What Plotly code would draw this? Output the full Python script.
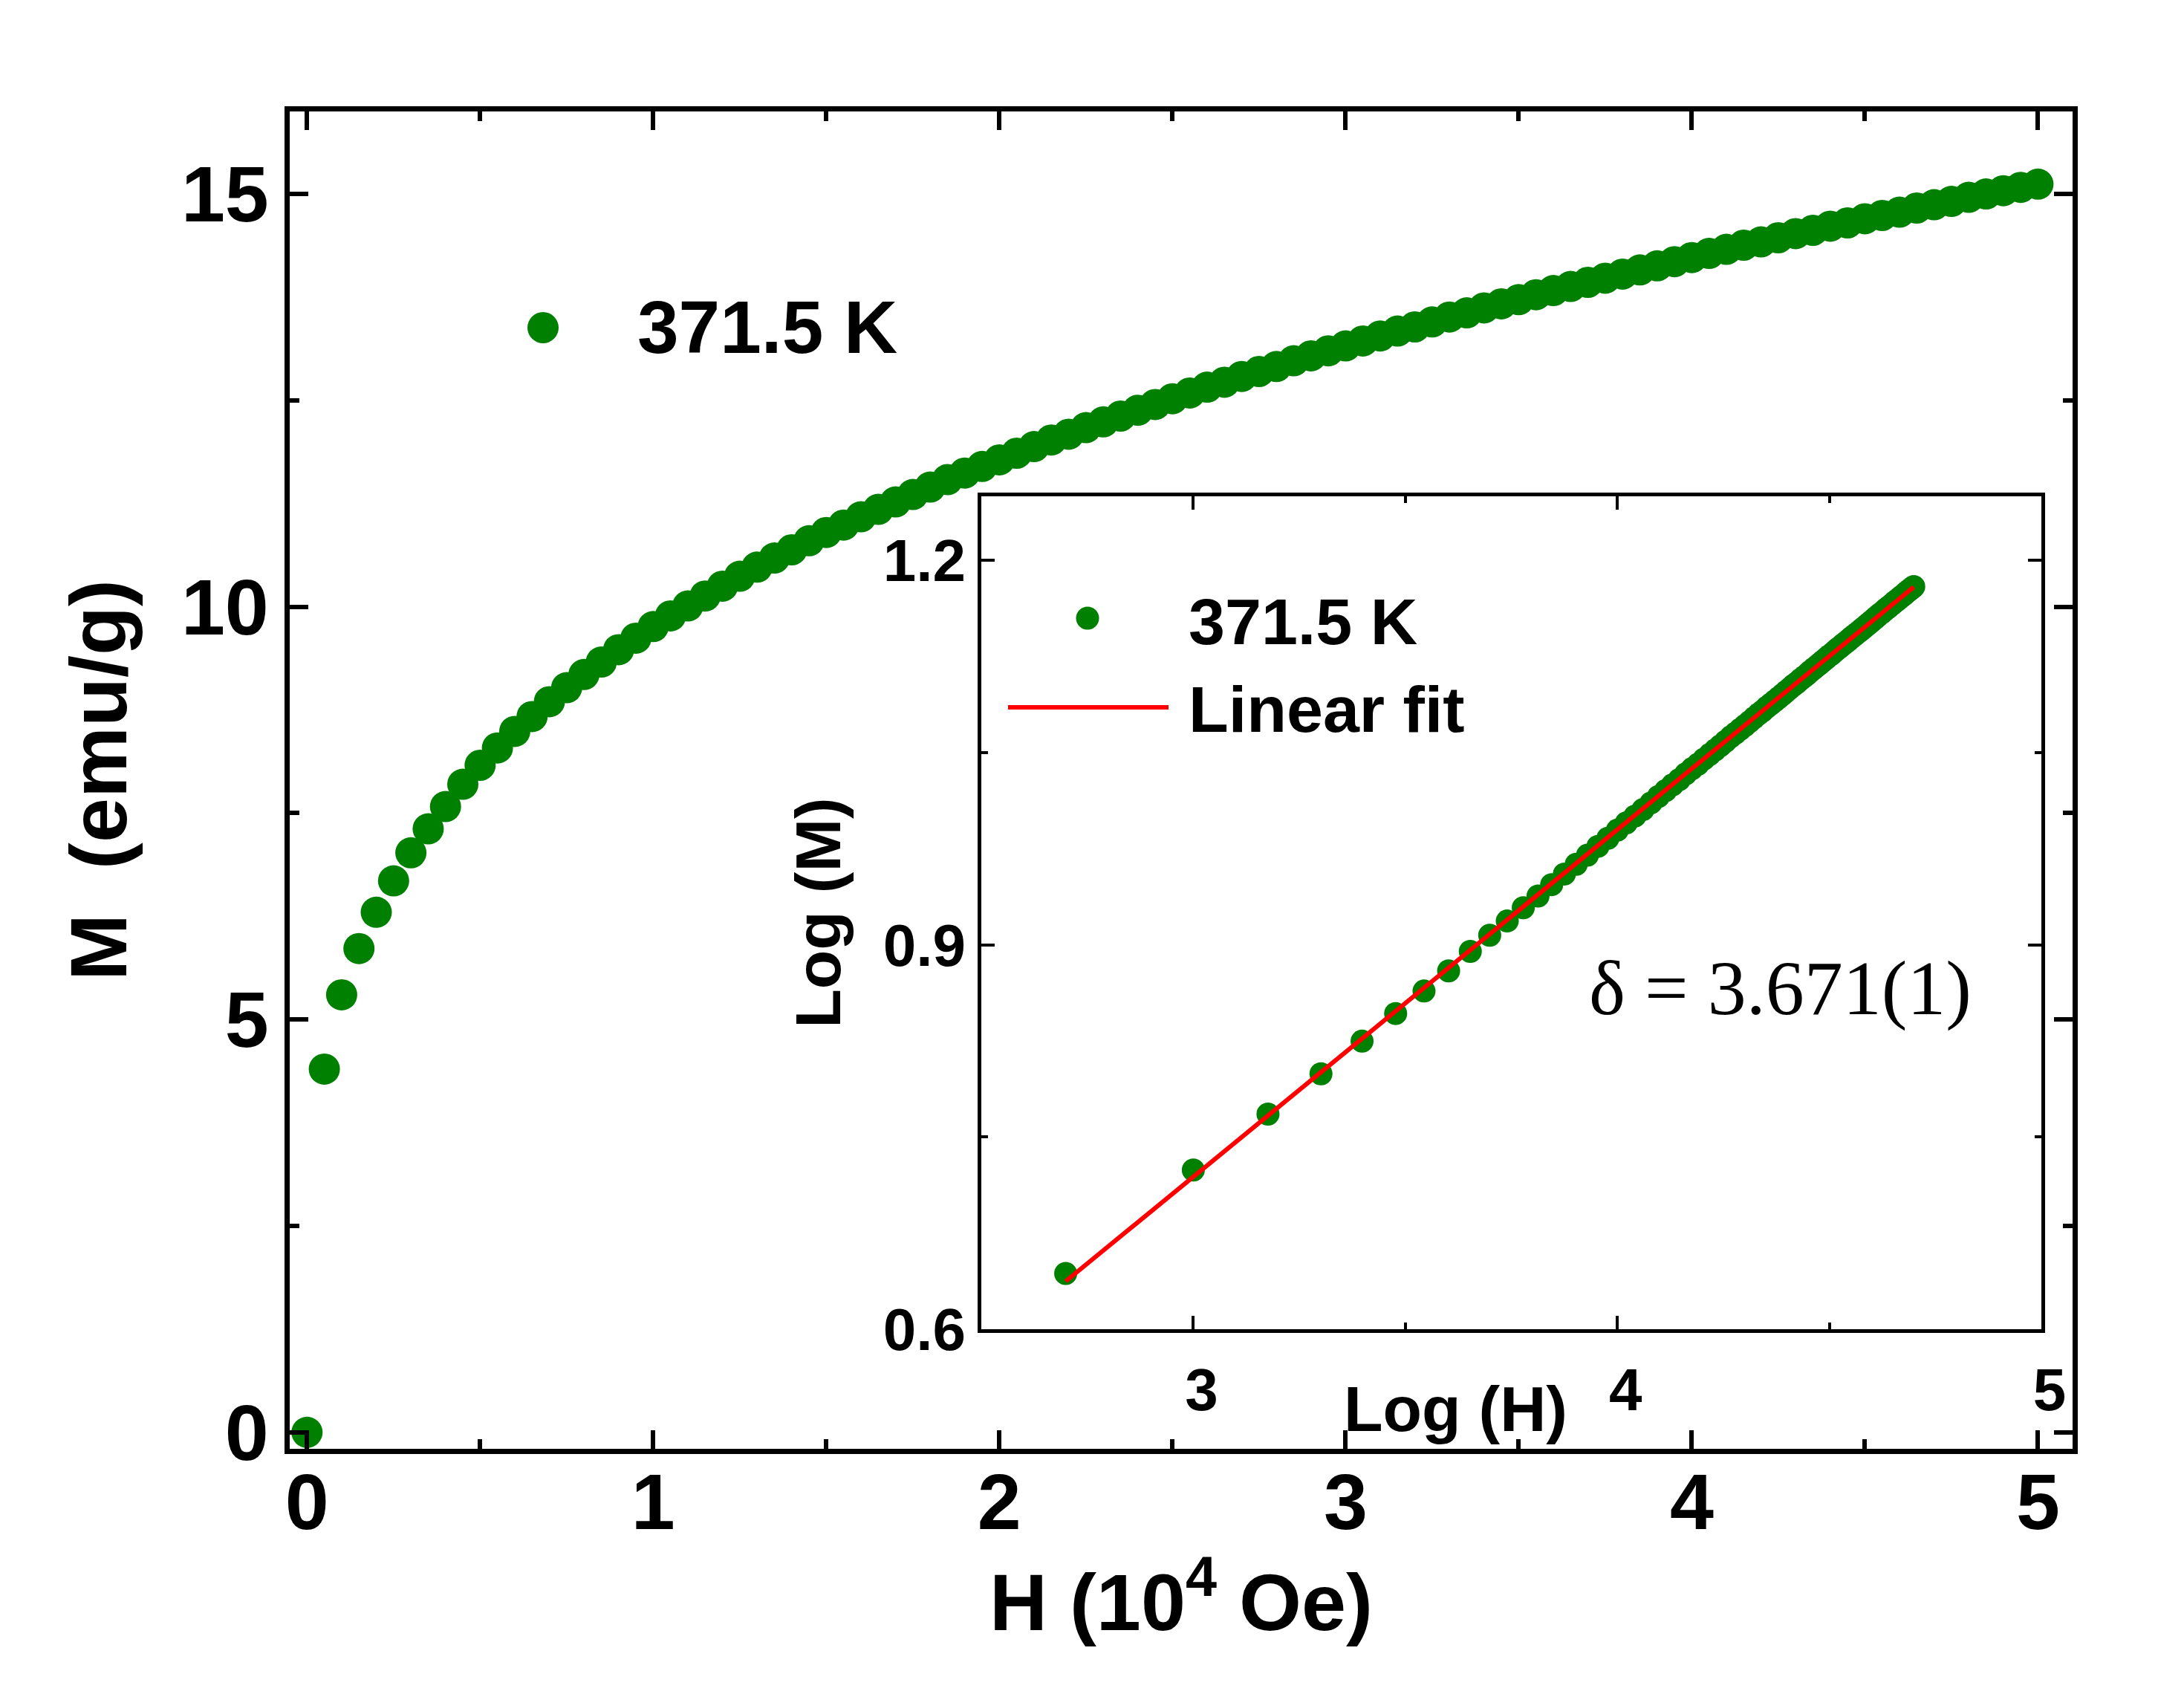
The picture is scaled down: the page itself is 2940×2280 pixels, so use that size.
import numpy as np
import plotly.graph_objects as go

# ---------------- data ----------------
H_1e4_Oe = [0.00, 0.05, 0.10, 0.15, 0.20, 0.25, 0.30, 0.35, 0.40, 0.45,
            0.50, 0.55, 0.60, 0.65, 0.70, 0.75, 0.80, 0.85, 0.90, 0.95,
            1.00, 1.05, 1.10, 1.15, 1.20, 1.25, 1.30, 1.35, 1.40, 1.45,
            1.50, 1.55, 1.60, 1.65, 1.70, 1.75, 1.80, 1.85, 1.90, 1.95,
            2.00, 2.05, 2.10, 2.15, 2.20, 2.25, 2.30, 2.35, 2.40, 2.45,
            2.50, 2.55, 2.60, 2.65, 2.70, 2.75, 2.80, 2.85, 2.90, 2.95,
            3.00, 3.05, 3.10, 3.15, 3.20, 3.25, 3.30, 3.35, 3.40, 3.45,
            3.50, 3.55, 3.60, 3.65, 3.70, 3.75, 3.80, 3.85, 3.90, 3.95,
            4.00, 4.05, 4.10, 4.15, 4.20, 4.25, 4.30, 4.35, 4.40, 4.45,
            4.50, 4.55, 4.60, 4.65, 4.70, 4.75, 4.80, 4.85, 4.90, 4.95,
            5.00]
M_emu_g = [0.00, 4.40, 5.30, 5.86, 6.30, 6.68, 7.02, 7.31, 7.58, 7.85,
           8.08, 8.29, 8.49, 8.67, 8.85, 9.02, 9.18, 9.33, 9.48, 9.62,
           9.76, 9.89, 10.01, 10.13, 10.25, 10.37, 10.48, 10.59, 10.69, 10.80,
           10.90, 10.99, 11.09, 11.18, 11.27, 11.36, 11.45, 11.54, 11.62, 11.70,
           11.78, 11.86, 11.94, 12.02, 12.09, 12.17, 12.24, 12.31, 12.38, 12.45,
           12.52, 12.59, 12.66, 12.72, 12.79, 12.85, 12.91, 12.98, 13.04, 13.10,
           13.16, 13.22, 13.28, 13.34, 13.39, 13.45, 13.51, 13.56, 13.62, 13.67,
           13.72, 13.78, 13.83, 13.88, 13.93, 13.98, 14.03, 14.08, 14.13, 14.18,
           14.23, 14.28, 14.33, 14.38, 14.42, 14.47, 14.52, 14.56, 14.61, 14.65,
           14.70, 14.74, 14.78, 14.83, 14.87, 14.91, 14.96, 15.00, 15.04, 15.08,
           15.12]

main_x_ticks = [0, 1, 2, 3, 4, 5]
main_x_minor = [0.5, 1.5, 2.5, 3.5, 4.5]
main_y_ticks = [0, 5, 10, 15]
main_y_minor = [2.5, 7.5, 12.5]
inset_x_ticks = [3, 4, 5]
inset_x_minor = [3.5, 4.5]
inset_y_ticks = [0.6, 0.9, 1.2]
inset_y_minor = [0.75, 1.05]
series_label = "371.5 K"
fit_label = "Linear fit"
delta_label = "δ = 3.671(1)"

# ---------------- derived inset data: log-log + linear fit ----------------
H = np.array(H_1e4_Oe)
M = np.array(M_emu_g)
pos = H > 0
logH = np.log10(H[pos] * 1e4)
logM = np.log10(M[pos])
slope, intercept = np.polyfit(logH, logM, 1)
fit_x = np.array([logH.min(), logH.max()])
fit_y = slope * fit_x + intercept

GREEN = "#008000"
RED = "#FF0000"
SANS = "Liberation Sans, Arial, sans-serif"
SERIF = "Liberation Serif, Times New Roman, serif"
W, Hpx = 2940, 2280


def px(x):
    return x / W


def py(y):
    return 1 - y / Hpx


fig = go.Figure()
fig.add_trace(go.Scatter(x=H, y=M, mode="markers", name=series_label,
                         marker=dict(size=42, color=GREEN, line=dict(width=0)),
                         xaxis="x", yaxis="y", showlegend=False))
fig.add_trace(go.Scatter(x=logH, y=logM, mode="markers", name=series_label,
                         marker=dict(size=31, color=GREEN, line=dict(width=0)),
                         xaxis="x2", yaxis="y2", showlegend=False))
fig.add_trace(go.Scatter(x=fit_x, y=fit_y, mode="lines", name=fit_label,
                         line=dict(color=RED, width=6),
                         xaxis="x2", yaxis="y2", showlegend=False))


def axis_common(lw, tl, tw, fs, minor_vals, mlen):
    return dict(ticks="inside", ticklen=tl, tickwidth=tw, tickcolor="black",
                showline=True, linewidth=lw, linecolor="black", mirror="allticks",
                showgrid=False, zeroline=False, automargin=False,
                tickfont=dict(family=SANS, size=fs, color="black", weight="bold"),
                minor=dict(tickmode="array", tickvals=minor_vals, ticks="inside",
                           ticklen=mlen, tickwidth=tw, tickcolor="black", showgrid=False))


xa = axis_common(7, 25, 6, 106, main_x_minor, 13)
xa.update(domain=[px(390), px(2790)], range=[-0.05, 5.1], anchor="y",
          tickmode="array", tickvals=main_x_ticks, ticklabelstandoff=-26,
          title=dict(text="H (10<sup>4</sup> Oe)", standoff=30,
                     font=dict(family=SANS, size=108, color="black", weight="bold")))
ya = axis_common(7, 25, 6, 106, main_y_minor, 13)
ya.update(domain=[py(1950), py(150)], range=[-0.2, 16.0], anchor="x",
          tickmode="array", tickvals=main_y_ticks,
          title=dict(text="M\u00a0 (emu/g)", standoff=40,
                     font=dict(family=SANS, size=108, color="black", weight="bold")))
xa2 = axis_common(5, 18, 4, 80, inset_x_minor, 9)
xa2.update(domain=[px(1321), px(2748)], range=[2.5, 5.0], anchor="y2",
           tickmode="array", tickvals=inset_x_ticks, ticklabelstandoff=8,
           ticklabelshift=11)
ya2 = axis_common(5, 18, 4, 80, inset_y_minor, 9)
ya2.update(domain=[py(1789), py(668)], range=[0.6, 1.25], anchor="x2",
           tickmode="array", tickvals=inset_y_ticks, tickformat=".1f",
           title=dict(text="Log (M)", standoff=30,
                      font=dict(family=SANS, size=86, color="black", weight="bold")))

annotations = [
    dict(text=series_label, x=px(856), y=py(440), xref="paper", yref="paper",
         xanchor="left", yanchor="middle", showarrow=False,
         font=dict(family=SANS, size=100, color="black", weight="bold")),
    dict(text=series_label, x=px(1598), y=py(836), xref="paper", yref="paper",
         xanchor="left", yanchor="middle", showarrow=False,
         font=dict(family=SANS, size=88, color="black", weight="bold")),
    dict(text=fit_label, x=px(1598), y=py(954), xref="paper", yref="paper",
         xanchor="left", yanchor="middle", showarrow=False,
         font=dict(family=SANS, size=88, color="black", weight="bold")),
    dict(text="Log (H)", x=px(1959), y=py(1896), xref="paper", yref="paper",
         xanchor="center", yanchor="middle", showarrow=False,
         font=dict(family=SANS, size=86, color="black", weight="bold")),
    dict(text=delta_label, x=px(2396), y=py(1330), xref="paper", yref="paper",
         xanchor="center", yanchor="middle", showarrow=False,
         font=dict(family=SERIF, size=104, color="black")),
]

shapes = [
    dict(type="circle", xref="paper", yref="paper", xsizemode="pixel", ysizemode="pixel",
         xanchor=px(731), yanchor=py(441), x0=-21, x1=21, y0=-21, y1=21,
         fillcolor=GREEN, line=dict(width=0)),
    dict(type="circle", xref="paper", yref="paper", xsizemode="pixel", ysizemode="pixel",
         xanchor=px(1464), yanchor=py(832), x0=-15.5, x1=15.5, y0=-15.5, y1=15.5,
         fillcolor=GREEN, line=dict(width=0)),
    dict(type="line", xref="paper", yref="paper", x0=px(1357), x1=px(1573),
         y0=py(952), y1=py(952), line=dict(color=RED, width=6)),
]

fig.update_layout(
    width=W, height=Hpx, autosize=False,
    margin=dict(l=0, r=0, t=0, b=0, pad=0, autoexpand=False),
    paper_bgcolor="white", plot_bgcolor="white",
    showlegend=False,
    xaxis=xa, yaxis=ya, xaxis2=xa2, yaxis2=ya2,
    annotations=annotations, shapes=shapes,
)

fig.write_html("out.html")
